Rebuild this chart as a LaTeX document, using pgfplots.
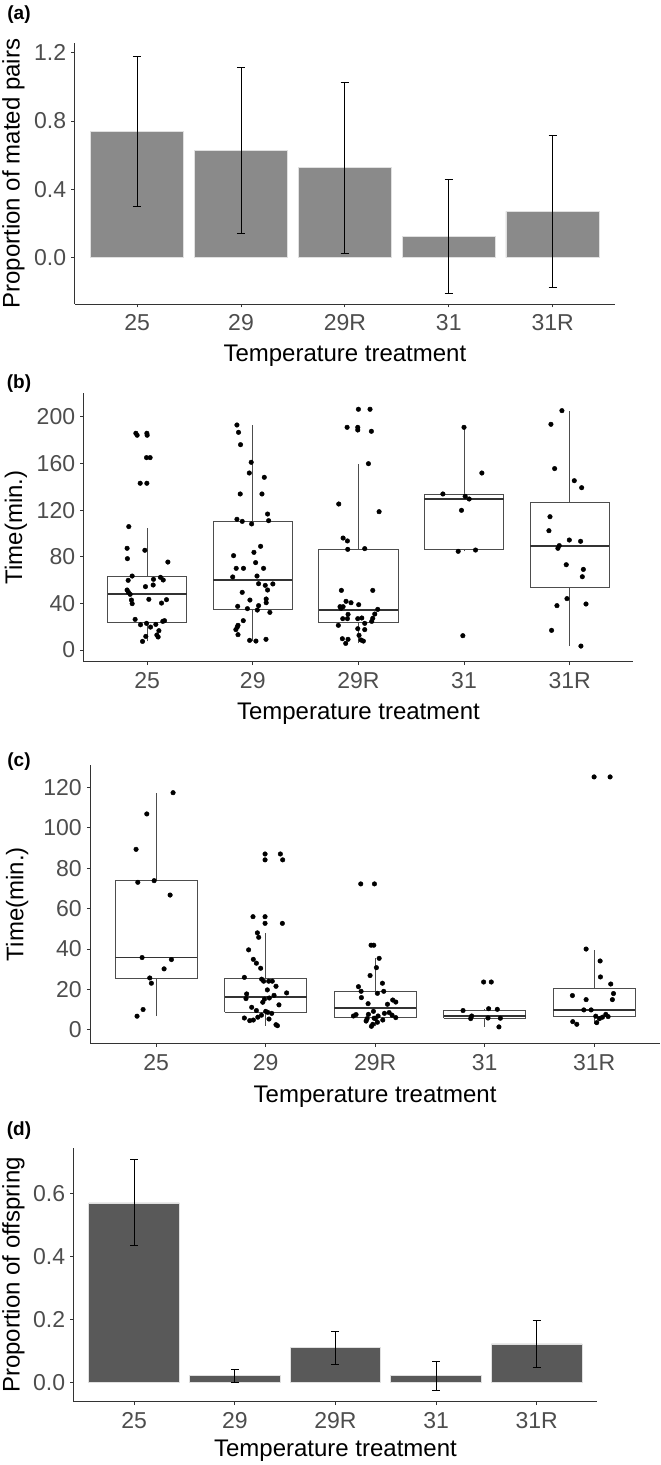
\documentclass[border=0pt]{standalone}
\usepackage{pgfplots}
\pgfplotsset{compat=1.18}
\usepackage{pgfplotstable}
\usepackage{fontspec}
\setmainfont{Liberation Sans}
\definecolor{tickgray}{HTML}{4D4D4D}
\definecolor{axgray}{HTML}{333333}
\definecolor{barA}{HTML}{8A8A8A}
\definecolor{barD}{HTML}{595959}
\definecolor{boxline}{HTML}{4D4D4D}

\pgfplotstableread{
x y lo hi
1 0.738 0.299 1.177
2 0.626 0.144 1.112
3 0.527 0.027 1.026
4 0.125 -0.209 0.460
5 0.271 -0.174 0.714
}\dataA
\pgfplotstableread{
x y lo hi
1 0.571 0.434 0.708
2 0.021 -0.001 0.042
3 0.110 0.057 0.161
4 0.021 -0.025 0.066
5 0.122 0.048 0.198
}\dataD

% box: left, centre, right, lower whisker, lower quartile, median, upper quartile, upper whisker
\newcommand{\ggbx}[8]{%
 \addplot[boxline, line width=0.9bp] coordinates {(#2,#4)(#2,#5)};
 \addplot[boxline, line width=0.9bp] coordinates {(#2,#7)(#2,#8)};
 \addplot[boxline, fill=white, line width=0.9bp] coordinates {(#1,#5)(#3,#5)(#3,#7)(#1,#7)(#1,#5)};
 \addplot[black!80, line width=1.9bp] coordinates {(#1,#6)(#3,#6)};
}
% error bar: cap left, centre, cap right, lower end, upper end
\newcommand{\ggeb}[5]{%
 \addplot[black, line width=1bp] coordinates {(#2,#4)(#2,#5)};
 \addplot[black, line width=1bp] coordinates {(#1,#4)(#3,#4)};
 \addplot[black, line width=1bp] coordinates {(#1,#5)(#3,#5)};
}

\pgfplotsset{
 ggbase/.style={
  scale only axis, anchor=south west,
  axis x line=bottom, axis y line=left,
  axis line style={-, draw=axgray, line width=0.9bp},
  tick style={draw=axgray, line width=0.9bp},
  major tick length=3.5bp, tick align=outside,
  xmin=0.4, xmax=5.6, xtick={1,2,3,4,5}, xticklabels={25,29,29R,31,31R},
  enlargelimits=false,
  ticklabel style={font=\fontsize{23bp}{27bp}\selectfont, text=tickgray, inner sep=0pt},
  xticklabel style={anchor=base, yshift=-23.5bp},
  yticklabel style={anchor=east, xshift=-5bp},
  label style={font=\fontsize{24bp}{28bp}\selectfont, text=black},
  xlabel={Temperature treatment},
  xlabel style={at={(axis description cs:0.5,0)}, anchor=base},
 },
 ggpts/.style={only marks, mark=*, mark size=2.3bp, black},
}

\begin{document}
\begin{tikzpicture}
\useasboundingbox (0,0) rectangle (661bp,1465bp);

% ---------------- (a)
\node[font=\fontsize{19bp}{22bp}\selectfont\bfseries] at (19bp,1450.8bp) {(a)};
\begin{axis}[ggbase, at={(74.8bp,1161bp)}, width=540.2bp, height=260.7bp,
  ymin=-0.271, ymax=1.255, ytick={0,0.4,0.8,1.2}, yticklabels={0.0,0.4,0.8,1.2},
  xlabel style={yshift=-58bp},
  ylabel={Proportion of mated pairs},
  ylabel style={at={(axis description cs:-0.1135,0.5)}, anchor=center}]
\addplot[ybar, bar width=0.9, bar shift=0pt, fill=barA, draw=white!88!black, line width=0.8bp] table[x=x,y=y]{\dataA};
\ggeb{0.96}{1}{1.04}{0.299}{1.177}
\ggeb{1.96}{2}{2.04}{0.144}{1.112}
\ggeb{2.96}{3}{3.04}{0.027}{1.026}
\ggeb{3.96}{4}{4.04}{-0.209}{0.460}
\ggeb{4.96}{5}{5.04}{-0.174}{0.714}
\end{axis}

% ---------------- (b)
\node[font=\fontsize{19bp}{22bp}\selectfont\bfseries] at (19bp,1081bp) {(b)};
\begin{axis}[ggbase, at={(83.8bp,803.3bp)}, width=549.2bp, height=268.4bp,
  ymin=-10, ymax=220.3, ytick={0,40,80,120,160,200}, yticklabels={0,40,80,120,160,200},
  xlabel style={yshift=-58bp},
  ylabel={Time(min.)},
  ylabel style={at={(axis description cs:-0.1237,0.5)}, anchor=center}]
\ggbx{0.625}{1}{1.375}{7.4}{23.5}{48.4}{63.5}{105}
\ggbx{1.625}{2}{2.375}{7.7}{35.2}{59.8}{110.2}{193.1}
\ggbx{2.625}{3}{3.375}{5.7}{23.5}{34.3}{86.4}{159.9}
\ggbx{3.625}{4}{4.375}{84.7}{86.1}{129.3}{133.9}{191.1}
\ggbx{4.625}{5}{5.375}{3.4}{53.8}{89.3}{126.5}{205.4}
\addplot[ggpts] coordinates {
(0.893,186.0)(0.905,184.3)(0.997,186.0)(1.0,184.3)(0.994,165.1)(1.028,165.1)(0.934,143.1)(0.997,143.1)(0.826,105.9)(0.81,87.3)(0.978,85.6)(0.813,78.4)(1.196,75.5)(0.858,63.5)(0.82,59.8)(1.06,60.7)(1.126,62.4)(1.152,60.1)(0.984,54.4)(1.057,55.8)(0.81,51.5)(0.823,49.5)(0.839,47.8)(0.851,42.9)(0.858,39.8)(1.016,43.5)(1.136,40.3)(1.183,43.2)(0.886,26.3)(0.937,21.7)(0.994,22.9)(1.032,19.7)(1.082,22.0)(1.111,16.6)(1.148,24.6)(1.164,25.2)(0.987,11.7)(1.092,12.9)(1.104,11.2)(0.956,7.4)
(1.85,193.1)(1.865,186.8)(1.884,176.2)(1.985,161.1)(1.967,151.9)(2.109,148.2)(1.881,133.9)(2.087,133.9)(2.14,116.7)(2.15,111.0)(1.85,112.2)(1.9,110.4)(1.989,108.2)(2.074,89.0)(2.011,83.8)(1.818,81.0)(2.027,75.0)(1.843,70.1)(1.912,70.1)(2.102,70.1)(1.81,62.7)(2.04,63.5)(2.055,56.9)(2.118,55.5)(2.19,56.7)(2.14,51.5)(1.9,49.5)(1.973,42.9)(2.127,43.8)(2.127,40.6)(1.857,37.5)(1.949,35.5)(2.055,38.1)(2.043,34.3)(2.162,32.3)(1.91,25.2)(1.86,21.2)(1.853,19.7)(1.84,17.5)(1.86,13.2)(1.97,8.3)(2.03,7.7)(2.125,9.2)
(3.0,206.6)(3.11,206.6)(2.893,191.1)(2.994,191.1)(2.994,188.8)(3.123,187.7)(3.095,159.9)(2.814,125.3)(3.196,118.7)(2.855,96.1)(2.896,93.6)(2.899,86.4)(3.06,87.0)(2.839,51.2)(3.136,51.2)(2.883,41.8)(2.93,40.6)(3.003,38.9)(2.826,37.2)(2.855,37.2)(2.836,35.8)(3.183,34.9)(2.902,30.6)(2.852,26.9)(2.896,26.9)(2.994,26.9)(3.032,27.5)(3.155,30.9)(3.136,27.2)(3.126,24.6)(3.06,22.9)(2.81,21.2)(2.994,18.3)(3.06,17.5)(3.006,12.6)(2.848,9.7)(2.902,9.2)(2.88,5.7)(3.025,8.6)(3.047,7.7)
(4.0,191.1)(4.169,151.9)(3.8,133.9)(4.011,131.9)(4.049,129.6)(3.976,119.9)(3.945,84.7)(4.109,85.8)(3.989,12.3)
(4.927,205.4)(4.823,193.7)(4.858,155.7)(5.044,145.3)(5.114,139.3)(4.814,114.4)(4.804,102.4)(4.997,94.4)(5.104,93.3)(4.902,89.6)(4.889,87.3)(4.968,73.2)(5.13,69.2)(5.12,62.9)(4.975,44.1)(4.88,38.1)(5.155,39.5)(4.829,16.9)(5.107,3.4)
};
\end{axis}

% ---------------- (c)
\node[font=\fontsize{19bp}{22bp}\selectfont\bfseries] at (19bp,703bp) {(c)};
\begin{axis}[ggbase, at={(90.4bp,421.7bp)}, width=569.4bp, height=278.3bp,
  ymin=-6.6, ymax=131, ytick={0,20,40,60,80,100,120}, yticklabels={0,20,40,60,80,100,120},
  xlabel style={yshift=-59.5bp},
  ylabel={Time(min.)},
  ylabel style={at={(axis description cs:-0.1284,0.5)}, anchor=center}]
\ggbx{0.625}{1}{1.375}{6.8}{25.7}{35.8}{74.0}{117.0}
\ggbx{1.625}{2}{2.375}{2.0}{8.7}{16.3}{25.4}{47.8}
\ggbx{2.625}{3}{3.375}{1.8}{6.4}{10.7}{18.8}{35.4}
\ggbx{3.625}{4}{4.375}{1.5}{5.8}{6.9}{9.7}{10.5}
\ggbx{4.625}{5}{5.375}{3.0}{6.6}{9.9}{20.3}{39.6}
\addplot[ggpts] coordinates {
(1.155,117.3)(0.915,106.8)(0.817,89.3)(0.833,73.0)(0.982,73.8)(1.128,66.7)(0.872,35.8)(1.14,34.8)(1.073,30.2)(0.942,25.7)(0.957,23.1)(0.881,10.1)(0.826,6.8)
(1.995,87.0)(2.135,87.0)(1.995,84.1)(2.156,84.1)(1.885,56.0)(1.995,56.0)(1.995,52.7)(2.153,52.7)(1.925,48.0)(1.937,45.8)(1.845,39.6)(1.888,34.9)(1.916,33.0)(1.955,30.5)(1.806,26.0)(1.964,25.1)(1.982,24.1)(2.028,24.1)(2.061,24.1)(2.095,21.6)(2.016,19.8)(2.192,18.3)(1.827,17.8)(1.821,15.5)(2.077,17.1)(2.034,15.8)(1.989,15.2)(1.974,13.7)(2.122,12.4)(1.873,11.2)(1.916,9.6)(2.001,9.2)(2.019,8.7)(2.056,8.2)(1.962,7.3)(1.929,6.3)(2.031,5.4)(1.806,5.9)(1.855,4.6)(1.888,4.9)(2.095,2.6)(2.108,2.1)
(2.869,72.2)(2.994,72.2)(2.963,41.9)(2.988,41.9)(3.037,35.4)(3.012,30.8)(2.954,26.9)(3.067,23.1)(2.848,21.4)(2.872,19.1)(3.079,19.1)(2.875,16.0)(3.021,18.1)(3.161,14.8)(3.189,13.8)(2.936,13.0)(3.113,12.7)(2.985,9.2)(3.085,8.2)(3.128,8.6)(2.802,6.9)(2.826,7.6)(2.939,7.7)(3.027,6.9)(3.189,6.1)(3.155,7.3)(2.927,5.6)(3.003,5.6)(3.07,4.9)(2.918,4.4)(3.021,3.8)(2.979,2.8)(2.966,1.8)(2.991,5.8)
(3.991,23.7)(4.061,23.7)(3.803,9.6)(4.037,10.5)(4.116,10.2)(3.882,6.9)(3.873,5.6)(4.031,5.9)(4.144,5.8)(4.131,1.5)
(5.0,125.1)(5.146,125.1)(4.927,40.0)(5.055,34.1)(5.058,26.2)(5.152,22.7)(4.802,17.0)(5.177,18.0)(5.167,15.0)(4.927,15.0)(4.906,9.9)(4.973,9.9)(5.015,6.8)(5.049,5.6)(5.076,6.3)(5.107,7.7)(5.128,6.6)(4.805,4.1)(4.842,2.8)(5.024,3.6)
};
\end{axis}

% ---------------- (d)
\node[font=\fontsize{19bp}{22bp}\selectfont\bfseries] at (19bp,334bp) {(d)};
\begin{axis}[ggbase, at={(73.8bp,63.3bp)}, width=523.3bp, height=253.4bp,
  ymin=-0.062, ymax=0.745, ytick={0,0.2,0.4,0.6}, yticklabels={0.0,0.2,0.4,0.6},
  xlabel style={yshift=-55bp},
  ylabel={Proportion of offspring},
  ylabel style={at={(axis description cs:-0.1152,0.5)}, anchor=center}]
\addplot[ybar, bar width=0.9, bar shift=0pt, fill=barD, draw=white!88!black, line width=0.8bp] table[x=x,y=y]{\dataD};
\ggeb{0.96}{1}{1.04}{0.434}{0.708}
\ggeb{1.96}{2}{2.04}{-0.001}{0.042}
\ggeb{2.96}{3}{3.04}{0.057}{0.161}
\ggeb{3.96}{4}{4.04}{-0.025}{0.066}
\ggeb{4.96}{5}{5.04}{0.048}{0.198}
\end{axis}
\end{tikzpicture}
\end{document}
